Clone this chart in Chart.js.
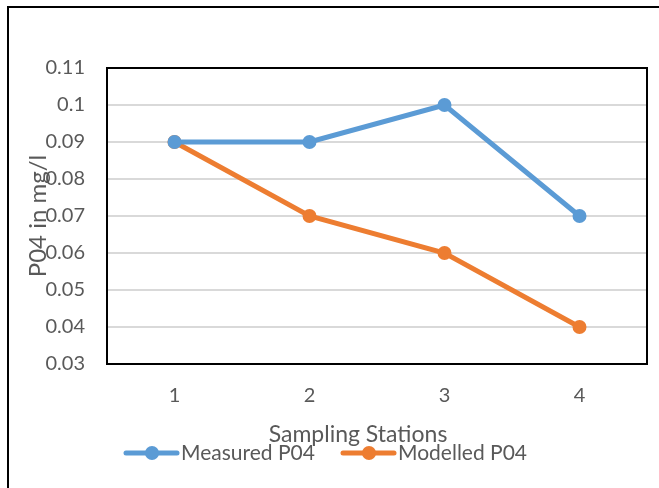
<!DOCTYPE html>
<html>
<head>
<meta charset="utf-8">
<script src="https://cdn.jsdelivr.net/npm/chart.js@4/dist/chart.umd.min.js"></script>
<style>
  html, body { margin: 0; padding: 0; background: #ffffff; }
  #wrap { width: 659px; height: 488px; position: relative; }
</style>
</head>
<body>
<div id="wrap"><canvas id="c" width="659" height="488"></canvas></div>
<script>
// Sampling stations and PO4 concentrations (mg/l)
const stations = ['1', '2', '3', '4'];
const measuredP04 = [0.09, 0.09, 0.10, 0.07];
const modelledP04 = [0.09, 0.07, 0.06, 0.04];
const seriesNames = ['Measured P04', 'Modelled P04'];
const yAxisTitle = 'P04 in mg/l';
const xAxisTitle = 'Sampling Stations';

const BLUE = '#5b9bd5';
const ORANGE = '#ed7d31';
const TEXT = '#595959';
const FONT = 'Lato, "Open Sans", sans-serif';

// Frame, plot box, axis titles and legend drawn on top of the chart
const decorations = {
  id: 'decorations',
  beforeDatasetsDraw(chart) {
    const { ctx, chartArea: a } = chart;
    ctx.save();
    ctx.strokeStyle = '#000000';
    ctx.lineWidth = 2;
    ctx.strokeRect(a.left, a.top, a.right - a.left, a.bottom - a.top);
    ctx.restore();
  },
  afterDraw(chart) {
    const { ctx } = chart;
    ctx.save();
    // outer frame (top and left edges)
    ctx.strokeStyle = '#000000';
    ctx.lineWidth = 2;
    ctx.beginPath();
    ctx.moveTo(8, 488);
    ctx.lineTo(8, 7);
    ctx.lineTo(659, 7);
    ctx.stroke();

    ctx.fillStyle = TEXT;
    // y axis title
    ctx.save();
    ctx.translate(38, 216);
    ctx.rotate(-Math.PI / 2);
    ctx.font = '24px ' + FONT;
    ctx.textAlign = 'center';
    ctx.textBaseline = 'middle';
    ctx.fillText(yAxisTitle, 0, 0);
    ctx.restore();

    // x axis title
    ctx.font = '23px ' + FONT;
    ctx.textAlign = 'center';
    ctx.textBaseline = 'middle';
    ctx.fillText(xAxisTitle, 358, 435);

    // legend
    const items = [
      { label: seriesNames[0], color: BLUE, x: 126 },
      { label: seriesNames[1], color: ORANGE, x: 343 }
    ];
    const ly = 453;
    items.forEach(it => {
      ctx.strokeStyle = it.color;
      ctx.lineWidth = 5;
      ctx.lineCap = 'round';
      ctx.beginPath();
      ctx.moveTo(it.x, ly);
      ctx.lineTo(it.x + 51, ly);
      ctx.stroke();
      ctx.fillStyle = it.color;
      ctx.beginPath();
      ctx.arc(it.x + 26, ly, 7, 0, Math.PI * 2);
      ctx.fill();
      ctx.fillStyle = TEXT;
      ctx.font = '21px ' + FONT;
      ctx.textAlign = 'left';
      ctx.textBaseline = 'middle';
      ctx.fillText(it.label, it.x + 55, ly);
    });
    ctx.restore();
  }
};

new Chart(document.getElementById('c'), {
  type: 'line',
  data: {
    labels: stations,
    datasets: [
      {
        label: seriesNames[0],
        data: measuredP04,
        borderColor: BLUE,
        backgroundColor: BLUE,
        borderWidth: 5,
        pointRadius: 7,
        pointHoverRadius: 7,
        pointBorderWidth: 0,
        tension: 0
      },
      {
        label: seriesNames[1],
        data: modelledP04,
        borderColor: ORANGE,
        backgroundColor: ORANGE,
        borderWidth: 5,
        pointRadius: 7,
        pointHoverRadius: 7,
        pointBorderWidth: 0,
        tension: 0
      }
    ]
  },
  options: {
    responsive: false,
    animation: false,
    devicePixelRatio: 1,
    layout: { padding: { top: 68, right: 12, left: 0, bottom: 0 } },
    plugins: {
      legend: { display: false },
      tooltip: { enabled: false }
    },
    scales: {
      x: {
        offset: true,
        grid: { display: false, drawTicks: false },
        border: { display: false },
        ticks: { color: TEXT, font: { family: FONT, size: 20 }, padding: 20 },
        afterFit(scale) { scale.height = 124; }
      },
      y: {
        min: 0.03,
        max: 0.11,
        grid: { color: '#d9d9d9', lineWidth: 2, drawTicks: false },
        border: { display: false },
        ticks: {
          stepSize: 0.01,
          color: TEXT,
          font: { family: FONT, size: 20 },
          padding: 22,
          callback: v => String(parseFloat(v.toFixed(2)))
        },
        afterFit(scale) { scale.width = 107; }
      }
    }
  },
  plugins: [decorations]
});
</script>
</body>
</html>
